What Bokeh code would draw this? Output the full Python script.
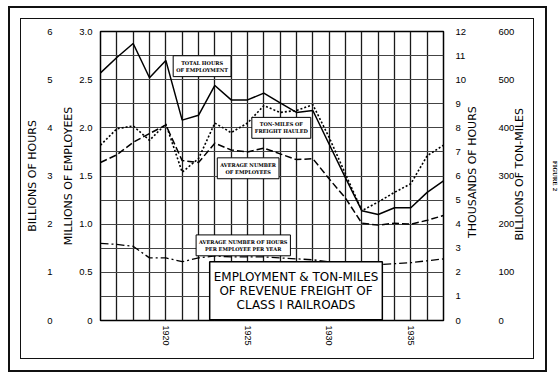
import math
from bokeh.plotting import figure
from bokeh.models import LinearAxis, Range1d, FixedTicker, Label, Grid, InlineStyleSheet
from bokeh.embed import file_html
from bokeh.resources import INLINE

# ---------------- data ----------------
years = list(range(1916, 1938))
total_hours_billions = [5.14, 5.46, 5.75, 5.04, 5.40, 4.16, 4.26, 4.88, 4.58, 4.58, 4.72,
                        4.52, 4.32, 4.36, 3.66, 2.96, 2.28, 2.20, 2.34, 2.34, 2.66, 2.90]
ton_miles_billions = [364, 398, 404, 374, 408, 308, 336, 410, 390, 410, 446,
                      432, 436, 448, 380, 304, 228, 246, 266, 284, 342, 364]
employees_millions = [1.64, 1.72, 1.85, 1.94, 2.03, 1.66, 1.64, 1.84, 1.77, 1.75, 1.79,
                      1.73, 1.67, 1.68, 1.47, 1.27, 1.01, 0.99, 1.01, 1.00, 1.04, 1.09]
hours_per_employee_thousands = [3.20, 3.16, 3.08, 2.60, 2.60, 2.44, 2.60, 2.68, 2.64, 2.64, 2.64,
                                2.60, 2.56, 2.52, 2.44, 2.36, 2.28, 2.32, 2.36, 2.40, 2.48, 2.56]

x_ticks = [1920, 1925, 1930, 1935]
emp_ticks = [0, 0.5, 1.0, 1.5, 2.0, 2.5, 3.0]
emp_tick_labels = ["0", "0.5", "1.0", "1.5", "2.0", "2.5", "3.0"]
hours_ticks = [0, 1, 2, 3, 4, 5, 6]
hours_tick_labels = ["0", "1", "2", "3", "4", "5", "6"]
thou_ticks = list(range(0, 13))
thou_tick_labels = [str(t) for t in thou_ticks]
ton_ticks = [0, 100, 200, 300, 400, 500, 600]
ton_tick_labels = ["0", "100", "200", "300", "400", "500", "600"]
grid_y = [i * 0.25 for i in range(13)]

# ---------------- figure ----------------
p = figure(width=560, height=377, x_range=Range1d(1916, 1937), y_range=Range1d(0, 3.0),
           output_backend="svg", toolbar_location=None,
           min_border_left=100, min_border_right=109, min_border_top=31, min_border_bottom=57)
p.extra_y_ranges = {"hours": Range1d(0, 6), "thou": Range1d(0, 12), "ton": Range1d(0, 600)}
p.background_fill_color = "white"
p.border_fill_color = "white"
p.outline_line_color = "black"
p.outline_line_width = 1.5

# double page frame drawn around the chart
p.stylesheets = [InlineStyleSheet(css="""
:host { position: relative; }
:host::before { content: ""; position: absolute; box-sizing: border-box;
  left: 8px; top: 6px; width: 539px; height: 366px;
  border: 2px solid #111; pointer-events: none; z-index: 5; }
:host::after { content: ""; position: absolute; box-sizing: border-box;
  left: 20px; top: 17.5px; width: 514px; height: 341.5px;
  border: 1.5px solid #111; pointer-events: none; z-index: 5; }
""")]

def style_axis(ax, ms, als):
    ax.axis_line_color = None
    ax.major_tick_line_color = None
    ax.minor_tick_line_color = None
    ax.major_tick_out = 0
    ax.major_tick_in = 0
    ax.minor_tick_out = 0
    ax.minor_tick_in = 0
    ax.major_label_text_font = "Liberation Sans"
    ax.major_label_text_font_size = "9.5px"
    ax.major_label_text_color = "black"
    ax.major_label_standoff = ms
    ax.axis_label_text_font = "DejaVu Sans"
    ax.axis_label_text_font_size = "11px"
    ax.axis_label_text_font_style = "normal"
    ax.axis_label_text_color = "black"
    ax.axis_label_standoff = als

def title_axis(range_name, pos, text, ms):
    # an empty axis whose single label acts as a bottom-to-top axis title
    ax = LinearAxis(y_range_name=range_name, ticker=FixedTicker(ticks=[pos]),
                    major_label_overrides={pos: text})
    style_axis(ax, ms, 0)
    ax.major_label_text_font = "DejaVu Sans"
    ax.major_label_text_font_size = "11px"
    ax.major_label_orientation = math.pi / 2
    return ax

# left inner: employees
ya = p.yaxis[0]
ya.ticker = FixedTicker(ticks=emp_ticks)
ya.major_label_overrides = dict(zip(emp_ticks, emp_tick_labels))
ya.axis_label = "MILLIONS OF EMPLOYEES"
style_axis(ya, 8, 1)

# left outer: billions of hours
ha = LinearAxis(y_range_name="hours", axis_label="BILLIONS OF HOURS",
                ticker=FixedTicker(ticks=hours_ticks),
                major_label_overrides=dict(zip(hours_ticks, hours_tick_labels)))
style_axis(ha, 7, 5)
p.add_layout(ha, "left")

# right inner: thousands of hours
ta = LinearAxis(y_range_name="thou",
                ticker=FixedTicker(ticks=thou_ticks),
                major_label_overrides=dict(zip(thou_ticks, thou_tick_labels)))
style_axis(ta, 12, 0)
p.add_layout(ta, "right")
p.add_layout(title_axis("thou", 3.43, "THOUSANDS OF HOURS", 3), "right")

# right outer: billions of ton-miles
ma = LinearAxis(y_range_name="ton",
                ticker=FixedTicker(ticks=ton_ticks),
                major_label_overrides=dict(zip(ton_ticks, ton_tick_labels)))
style_axis(ma, 10, 0)
p.add_layout(ma, "right")
p.add_layout(title_axis("ton", 166, "BILLIONS OF TON-MILES", 2), "right")

# page caption placed as the label of an empty outermost axis
fa = LinearAxis(y_range_name="ton", axis_label="FIGURE 2", ticker=FixedTicker(ticks=[]))
style_axis(fa, 0, 16)
fa.axis_label_text_font = "DejaVu Serif"
fa.axis_label_text_font_size = "5.5px"
fa.axis_label_text_font_style = "bold"
p.add_layout(fa, "right")

xa = p.xaxis[0]
xa.ticker = FixedTicker(ticks=x_ticks)
style_axis(xa, 5, 0)
xa.major_label_text_font_size = "9px"
xa.major_label_orientation = "vertical"

p.xgrid.visible = False
p.ygrid.visible = False
gx = Grid(dimension=0, ticker=FixedTicker(ticks=years),
          grid_line_color="#1a1a1a", grid_line_width=1.3)
gy = Grid(dimension=1, ticker=FixedTicker(ticks=grid_y),
          grid_line_color="#444444", grid_line_width=1.2)
p.add_layout(gx)
p.add_layout(gy)

# ---------------- series ----------------
p.line(years, total_hours_billions, y_range_name="hours", line_color="black", line_width=1.5)
p.line(years, ton_miles_billions, y_range_name="ton", line_color="black", line_width=1.6,
       line_dash="2 2")
p.line(years, employees_millions, line_color="black", line_width=1.5, line_dash="7 3")
p.line(years, hours_per_employee_thousands, y_range_name="thou", line_color="black",
       line_width=1.3, line_dash="8 3 2 3")

# ---------------- annotations ----------------
def small_box(x, y, text):
    lab = Label(x=x, y=y, text=text, text_align="center", text_baseline="middle",
                text_font="DejaVu Serif", text_font_size="5px", text_font_style="bold",
                text_color="black", text_line_height=1.15,
                border_line_color="black", border_line_width=1,
                background_fill_color="white", padding=(3, 4))
    p.add_layout(lab)

small_box(1922.22, 2.64, "TOTAL HOURS\nOF EMPLOYMENT")
small_box(1927.07, 2.00, "TON-MILES OF\nFREIGHT HAULED")
small_box(1925.04, 1.58, "AVERAGE NUMBER\nOF EMPLOYEES")
small_box(1924.74, 0.78, "AVERAGE NUMBER OF HOURS\nPER EMPLOYEE PER YEAR")

title = Label(x=1927.97, y=0.31, text="EMPLOYMENT & TON-MILES\nOF REVENUE FREIGHT OF\nCLASS I RAILROADS",
              text_align="center", text_baseline="middle",
              text_font="DejaVu Sans", text_font_size="12px", text_color="black",
              text_line_height=1.0,
              border_line_color="black", border_line_width=1.5,
              background_fill_color="white", padding=(4, 8))
p.add_layout(title)

open("out.html", "w").write(file_html(p, INLINE))
